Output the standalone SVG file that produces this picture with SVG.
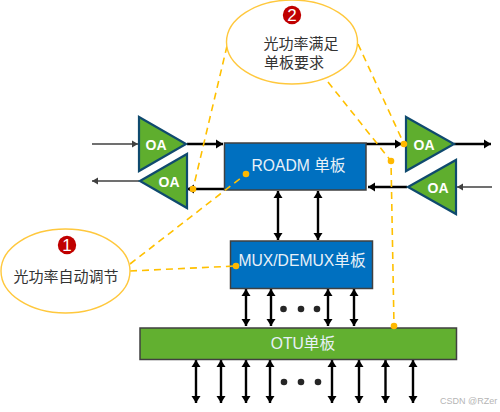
<svg xmlns="http://www.w3.org/2000/svg" width="500" height="412" viewBox="0 0 500 412">
<style>
text{font-family:"Liberation Sans","Noto Sans CJK SC",sans-serif}
.oa polygon{fill:#5fae2e;stroke:#0f4a6e;stroke-width:2.2}
.oa text{fill:#fff;font-size:14px;font-weight:bold;text-anchor:middle}
.blue{fill:#0070c0;stroke:#404040;stroke-width:1.5}
.green{fill:#62b030;stroke:#404040;stroke-width:1.5}
.lbl{fill:#e8f1f8;font-size:15.700px;text-anchor:middle}
.call{fill:#fff;stroke:#ffc83d;stroke-width:1.4}
.cn{fill:#333;font-size:15px;text-anchor:middle}
.num{fill:#c00000}
.numt{fill:#fff;font-size:17px;text-anchor:middle}
.thin{stroke:#404040;stroke-width:1.4;fill:none;marker-end:url(#t)}
.bold{stroke:#000;stroke-width:2.4;fill:none;marker-end:url(#b)}
.both{stroke:#000;stroke-width:2.4;fill:none;marker-end:url(#b);marker-start:url(#bs)}
.dash{stroke:#ffc000;stroke-width:1.6;stroke-dasharray:7 5;fill:none}
.dot{fill:#ffb800}
.bk{fill:#262626}
</style>
<defs>
<marker id="t" markerUnits="userSpaceOnUse" markerWidth="8" markerHeight="8" refX="6" refY="4" orient="auto"><path d="M0 0.500L6 4L0 7.500Z" fill="#404040"/></marker>
<marker id="b" markerUnits="userSpaceOnUse" markerWidth="8" markerHeight="10" refX="7" refY="5" orient="auto"><path d="M0 0.500L7 5L0 9.500Z" fill="#000"/></marker>
<marker id="bs" markerUnits="userSpaceOnUse" markerWidth="8" markerHeight="10" refX="0" refY="5" orient="auto"><path d="M7 0.500L0 5L7 9.500Z" fill="#000"/></marker>
</defs>
<g id="connectors">
<path class="thin" d="M92 144H138"/>
<path class="thin" d="M139 181H92"/>
<path class="bold" d="M187 144H223"/>
<path class="bold" d="M224 189H187"/>
<path class="bold" d="M366 144H402"/>
<path class="bold" d="M454 144H491"/>
<path class="bold" d="M407 187H368"/>
<path class="thin" d="M492 187H457"/>
<path class="both" d="M278 191V240"/>
<path class="both" d="M318 191V240"/>
<path class="both" d="M246 289V326"/>
<path class="both" d="M271 289V326"/>
<path class="both" d="M328 289V326"/>
<path class="both" d="M354 289V326"/>
<path class="both" d="M196 360V403"/>
<path class="both" d="M221 360V403"/>
<path class="both" d="M246 360V403"/>
<path class="both" d="M270 360V403"/>
<path class="both" d="M332 360V403"/>
<path class="both" d="M359 360V403"/>
<path class="both" d="M385.500 360V403"/>
<path class="both" d="M413 360V403"/>
</g>
<g id="roadm"><rect class="blue" x="224.500" y="143" width="141.500" height="47"/><text class="lbl" x="298.500" y="171">ROADM 单板</text></g>
<g id="mux"><rect class="blue" x="230.500" y="241" width="142" height="47.500"/><text class="lbl" x="302" y="266">MUX/DEMUX单板</text></g>
<g id="otu"><rect class="green" x="140" y="328" width="316.500" height="31.500"/><text class="lbl" x="303" y="349">OTU单板</text></g>
<g id="oa1" class="oa"><polygon points="139,117 186,144 139,171"/><text x="156" y="149.500">OA</text></g>
<g id="oa2" class="oa"><polygon points="140,181 187,154 187,208"/><text x="169" y="186.500">OA</text></g>
<g id="oa3" class="oa"><polygon points="406,117 454,144 406,171"/><text x="424" y="149.500">OA</text></g>
<g id="oa4" class="oa"><polygon points="408,187 456,160 456,214"/><text x="438" y="192.500">OA</text></g>
<g id="callout-links">
<path class="dash" d="M227 46L193 189"/>
<path class="dash" d="M130 264L246 174"/>
<path class="dash" d="M130 271L236 266"/>
<path class="dash" d="M358 44L404 144"/>
<path class="dash" d="M328 82L391 161L394 326"/>
<circle class="dot" cx="193" cy="189" r="3.300"/>
<circle class="dot" cx="246" cy="174" r="3.300"/>
<circle class="dot" cx="236" cy="266" r="3.300"/>
<circle class="dot" cx="404" cy="144" r="3.300"/>
<circle class="dot" cx="391" cy="161" r="3.300"/>
<circle class="dot" cx="394" cy="326" r="3.300"/>
</g>
<g id="callout1"><ellipse class="call" cx="65.500" cy="271" rx="64.500" ry="42"/><circle class="num" cx="67" cy="245" r="9.200"/><text class="numt" x="67" y="251">1</text><text class="cn" x="66" y="282">光功率自动调节</text></g>
<g id="callout2"><ellipse class="call" cx="292" cy="42" rx="65.500" ry="42"/><circle class="num" cx="292" cy="15" r="9.200"/><text class="numt" x="292" y="21">2</text><text class="cn" x="301" y="49">光功率满足</text><text class="cn" x="294" y="68">单板要求</text></g>
<g id="ellipsis1"><circle class="bk" cx="283.500" cy="309" r="3.300"/><circle class="bk" cx="301" cy="309" r="3.300"/><circle class="bk" cx="317" cy="309" r="3.300"/></g>
<g id="ellipsis2"><circle class="bk" cx="284" cy="382" r="3.300"/><circle class="bk" cx="301" cy="382" r="3.300"/><circle class="bk" cx="318" cy="382" r="3.300"/></g>
<text x="440" y="404" font-size="9" fill="#b5b5b5">CSDN @RZer</text>
</svg>
